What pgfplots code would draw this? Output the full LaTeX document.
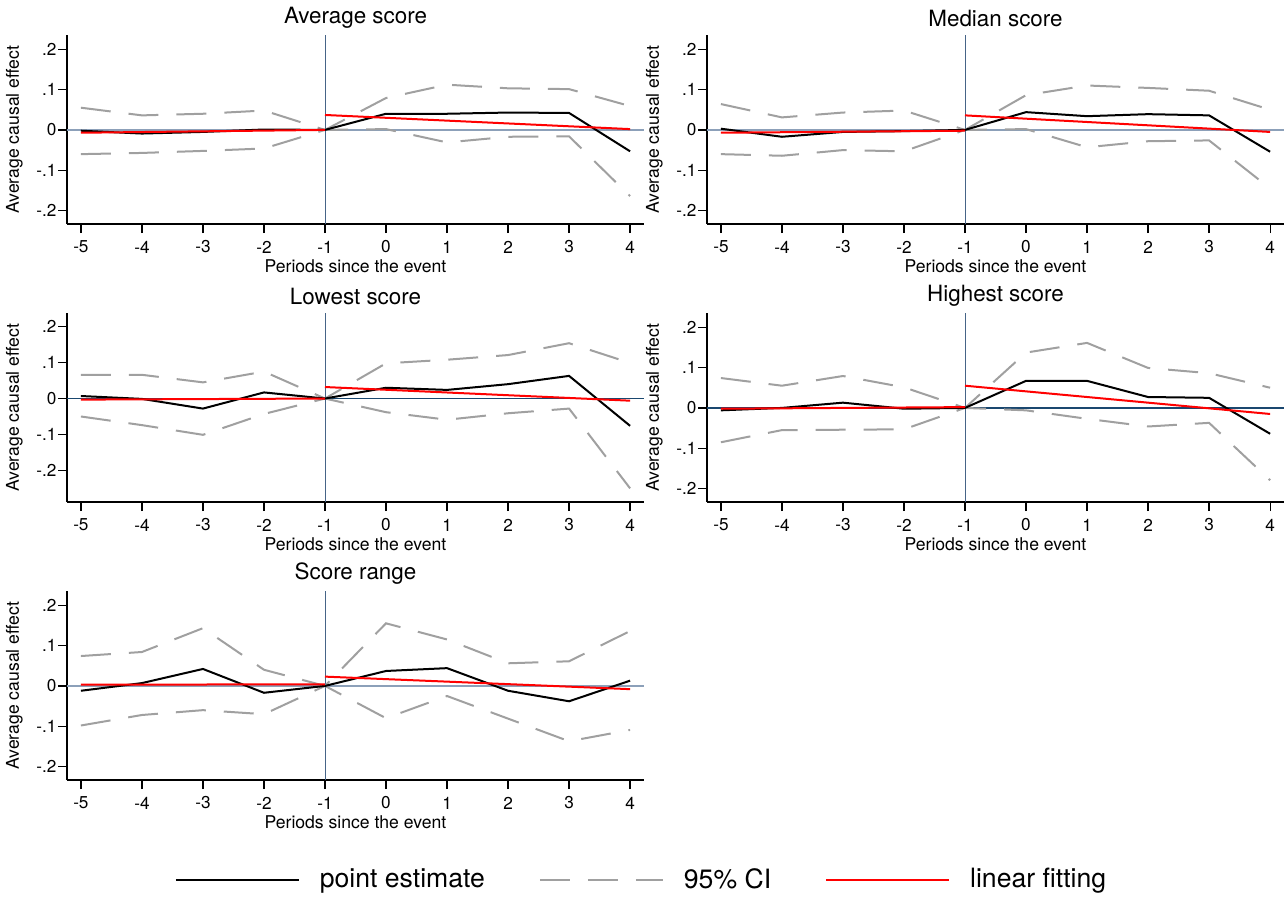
\documentclass[border=0pt]{standalone}
\usepackage{fontspec}
\setmainfont{TeX Gyre Heros}
\usepackage{pgfplots}
\usepackage{pgfplotstable}
\pgfplotsset{compat=1.18}
\definecolor{zlight}{RGB}{140,160,185}
\definecolor{zdark}{RGB}{26,71,111}
\definecolor{vl}{RGB}{70,100,135}
\definecolor{cigray}{RGB}{160,160,160}

% x  est  up  lo
\pgfplotstableread{
x est up lo
-5 -0.002 0.055 -0.060
-4 -0.009 0.036 -0.057
-3 -0.005 0.040 -0.052
-2 0.001 0.048 -0.046
-1 0 0 0
0 0.040 0.079 0.002
1 0.040 0.112 -0.031
2 0.043 0.103 -0.017
3 0.042 0.101 -0.016
4 -0.053 0.059 -0.164
}\tavg
\pgfplotstableread{
x est up lo
-5 0.003 0.064 -0.060
-4 -0.017 0.031 -0.064
-3 -0.005 0.043 -0.050
-2 -0.003 0.048 -0.053
-1 0 0 0
0 0.044 0.086 0.002
1 0.034 0.110 -0.043
2 0.039 0.104 -0.028
3 0.036 0.097 -0.026
4 -0.054 0.050 -0.145
}\tmed
\pgfplotstableread{
x est up lo
-5 0.007 0.066 -0.050
-4 -0.001 0.066 -0.074
-3 -0.028 0.045 -0.101
-2 0.017 0.075 -0.043
-1 0 0 0
0 0.030 0.098 -0.038
1 0.024 0.108 -0.059
2 0.040 0.121 -0.041
3 0.063 0.154 -0.028
4 -0.076 0.099 -0.250
}\tlow
\pgfplotstableread{
x est up lo
-5 -0.006 0.074 -0.085
-4 0.000 0.055 -0.055
-3 0.013 0.079 -0.054
-2 -0.002 0.051 -0.053
-1 0 0 0
0 0.067 0.137 -0.006
1 0.067 0.161 -0.027
2 0.027 0.099 -0.046
3 0.025 0.086 -0.037
4 -0.064 0.050 -0.179
}\thigh
\pgfplotstableread{
x est up lo
-5 -0.012 0.074 -0.098
-4 0.007 0.084 -0.072
-3 0.042 0.143 -0.060
-2 -0.017 0.040 -0.070
-1 0 0 0
0 0.037 0.155 -0.080
1 0.044 0.115 -0.025
2 -0.012 0.056 -0.081
3 -0.038 0.061 -0.137
4 0.013 0.136 -0.109
}\trange

\pgfplotsset{
  panel/.style={
    scale only axis, width=288.5pt, height=94.5pt, anchor=north west,
    xmin=-5.228, xmax=4.228, ymin=-0.233, ymax=0.235,
    axis x line*=bottom, axis y line*=left,
    axis line style={-, line width=0.7pt, black},
    xtick={-5,-4,-3,-2,-1,0,1,2,3,4},
    xticklabels={-5,-4,-3,-2,-1,0,1,2,3,4},
    ytick={-0.2,-0.1,0,0.1,0.2},
    yticklabels={-.2,-.1,0,.1,.2},
    tick align=outside, major tick length=4.5pt,
    tick style={line width=0.6pt, black},
    xticklabel style={font=\fontsize{8.6}{10}\selectfont, anchor=center, inner sep=0pt, yshift=-7pt},
    yticklabel style={font=\fontsize{8.6}{10}\selectfont, anchor=east, inner sep=0pt, xshift=-0.6pt},
    xlabel={Periods since the event},
    ylabel={Average causal effect},
    label style={font=\fontsize{8.8}{10}\selectfont},
    xlabel style={at={(axis description cs:0.5,0)}, anchor=center, yshift=-21pt},
    ylabel style={at={(axis description cs:0,0.5)}, anchor=center, yshift=26.3pt},
    title style={font=\fontsize{11.2}{13}\selectfont, at={(axis description cs:0.5,1)}, anchor=center, yshift=2.5pt},
    clip=false,
  },
  est/.style={black, line width=1pt},
  ci/.style={cigray, line width=1pt, dash pattern=on 15pt off 9pt},
  fit/.style={red, line width=1pt},
}

\newcommand{\panelplots}[6]{%
  \addplot[#6, line width=0.7pt, forget plot] coordinates {(-5.228,0) (4.228,0)};
  \addplot[vl, line width=0.4pt, forget plot] coordinates {(-1,\pgfkeysvalueof{/pgfplots/ymin}) (-1,\pgfkeysvalueof{/pgfplots/ymax})};
  \addplot[ci, forget plot] table[x=x, y=up] {#1};
  \addplot[ci, forget plot] table[x=x, y=lo] {#1};
  \addplot[est, forget plot] table[x=x, y=est] {#1};
  \addplot[fit, forget plot] coordinates {(-5,#2) (-1,#3)};
  \addplot[fit, forget plot] coordinates {(-1,#4) (4,#5)};
}

\begin{document}
\begin{tikzpicture}
\useasboundingbox (0,0) rectangle (642.5pt,-448pt);

\begin{axis}[panel, at={(33.5pt,-17.5pt)}, title={Average score}]
\panelplots{\tavg}{-0.007}{0.000}{0.037}{0.002}{zlight}
\end{axis}

\begin{axis}[panel, at={(353.5pt,-17.5pt)}, title={Median score}]
\panelplots{\tmed}{-0.007}{-0.002}{0.036}{-0.005}{zlight}
\end{axis}

\begin{axis}[panel, at={(33.5pt,-156.5pt)}, title={Lowest score}, ymin=-0.288, ymax=0.238]
\panelplots{\tlow}{-0.003}{0.000}{0.032}{-0.006}{zdark}
\end{axis}

\begin{axis}[panel, at={(353.5pt,-156.5pt)}, title={Highest score}]
\panelplots{\thigh}{-0.002}{0.002}{0.055}{-0.015}{zdark}
\end{axis}

\begin{axis}[panel, at={(33.5pt,-295.5pt)}, title={Score range},
  legend columns=3,
  legend style={draw=none, fill=none, font=\fontsize{13.3}{15}\selectfont,
    at={(axis description cs:0.994,-0.527)}, anchor=center,
    /tikz/every odd column/.append style={column sep=10pt},
    /tikz/every even column/.append style={column sep=27pt},
    nodes={inner sep=0pt}},
  legend image code/.code={\draw[#1] (0pt,0pt) -- (61.5pt,0pt);},
  legend cell align=left]
\panelplots{\trange}{0.003}{0.004}{0.023}{-0.008}{zlight}
\addlegendimage{est}
\addlegendentry{point estimate}
\addlegendimage{ci}
\addlegendentry{95\% CI}
\addlegendimage{fit}
\addlegendentry{linear fitting}
\end{axis}
\end{tikzpicture}
\end{document}
